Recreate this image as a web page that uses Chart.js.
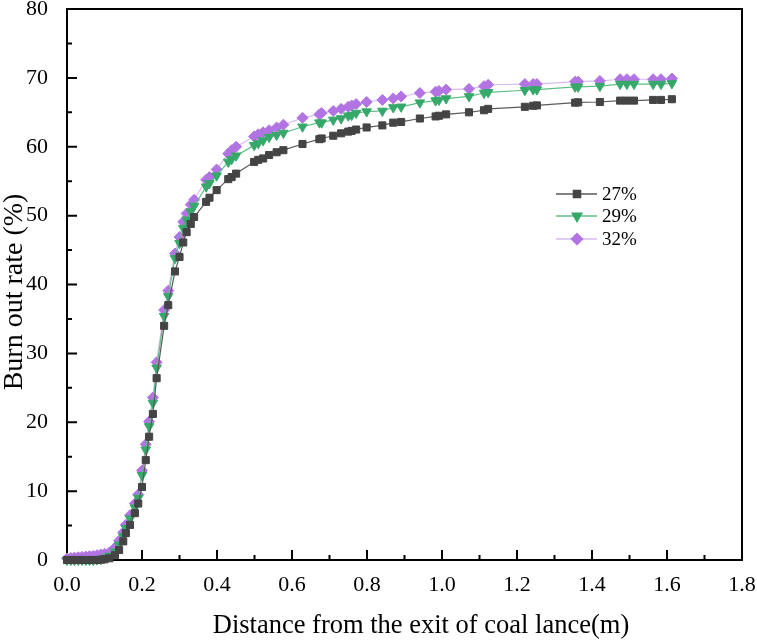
<!DOCTYPE html>
<html>
<head>
<meta charset="utf-8">
<script src="https://cdn.jsdelivr.net/npm/chart.js@4/dist/chart.umd.min.js"></script>
<style>
    html, body { margin: 0; padding: 0; background: #fff; }
    #contenedor { width: 757px; height: 642px; }
</style>
</head>
<body>
<div id="contenedor"><canvas id="myChart"></canvas></div>
<script>
// datos (distancia en m, tasa de quemado en %)
const distancia = [0.0, 0.01, 0.02, 0.03, 0.04, 0.05, 0.06, 0.07, 0.08, 0.09, 0.10,
    0.113, 0.128, 0.139, 0.150, 0.157, 0.168, 0.181, 0.19, 0.20, 0.21, 0.219, 0.229, 0.239,
    0.259, 0.270, 0.288, 0.300, 0.310, 0.319, 0.330, 0.339, 0.371, 0.380, 0.399, 0.430, 0.439,
    0.451, 0.499, 0.510, 0.523, 0.539, 0.559, 0.577, 0.628, 0.673, 0.679, 0.71, 0.731, 0.75,
    0.759, 0.771, 0.799, 0.841, 0.87, 0.891, 0.941, 0.983, 0.992, 1.011, 1.072, 1.112, 1.123,
    1.221, 1.243, 1.253, 1.355, 1.363, 1.421, 1.475, 1.493, 1.512, 1.563, 1.584, 1.613];

const tasa27 = [0, 0, 0, 0, 0, 0, 0, 0, 0, 0.05, 0.1,
    0.25, 0.7, 1.45, 2.7, 3.9, 5.1, 6.8, 8.2, 10.6, 14.5, 17.9, 21.2, 26.4,
    34.0, 37.0, 41.9, 44.0, 46.1, 47.6, 48.8, 49.8, 52.0, 52.6, 53.7, 55.3, 55.6,
    56.1, 57.8, 58.1, 58.3, 58.8, 59.2, 59.5, 60.4, 61.1, 61.2, 61.6, 61.95, 62.2,
    62.3, 62.5, 62.8, 63.1, 63.5, 63.6, 64.1, 64.4, 64.5, 64.7, 65.0, 65.3, 65.5,
    65.8, 65.95, 66.0, 66.4, 66.45, 66.5, 66.7, 66.7, 66.7, 66.8, 66.8, 66.9];

const tasa29 = [0, 0, 0, 0, 0, 0, 0, 0, 0.05, 0.1, 0.3,
    0.6, 1.2, 2.2, 3.4, 4.6, 6.0, 7.6, 9.0, 12.3, 16.0, 19.4, 22.8, 27.9,
    35.4, 38.3, 43.8, 46.0, 48.2, 49.4, 50.6, 51.4, 54.2, 54.7, 55.8, 57.8, 58.2,
    58.7, 60.2, 60.5, 60.9, 61.4, 61.7, 62.0, 62.9, 63.5, 63.5, 63.9, 64.1, 64.5,
    64.6, 64.9, 65.1, 65.2, 65.7, 65.8, 66.4, 66.7, 66.8, 67.0, 67.3, 67.8, 67.9,
    68.2, 68.3, 68.3, 68.7, 68.7, 68.8, 69.1, 69.1, 69.1, 69.1, 69.1, 69.2];

const tasa32 = [0.2, 0.3, 0.35, 0.4, 0.45, 0.5, 0.55, 0.6, 0.7, 0.8, 0.9,
    1.1, 1.8, 2.8, 4.0, 5.1, 6.5, 8.2, 9.5, 13.0, 16.8, 20.1, 23.6, 28.7,
    36.3, 39.1, 44.5, 46.9, 49.1, 50.3, 51.6, 52.3, 55.2, 55.6, 56.7, 59.0, 59.5,
    60.0, 61.5, 61.8, 62.1, 62.4, 62.8, 63.2, 64.2, 64.7, 64.9, 65.2, 65.5, 65.8,
    66.0, 66.2, 66.5, 66.8, 67.0, 67.3, 67.8, 68.0, 68.1, 68.3, 68.4, 68.8, 69.0,
    69.1, 69.1, 69.1, 69.45, 69.45, 69.55, 69.8, 69.8, 69.8, 69.8, 69.8, 69.9];

const ticksX = [0.0, 0.2, 0.4, 0.6, 0.8, 1.0, 1.2, 1.4, 1.6, 1.8];
const ticksY = [0, 10, 20, 30, 40, 50, 60, 70, 80];

const tituloX = "Distance from the exit of coal lance(m)";
const tituloY = "Burn out rate (%)";

const fuente = "'Liberation Serif', 'Times New Roman', serif";

// arma los puntos {x, y} para cada serie
function puntos(valores) {
    return distancia.map((d, i) => ({ x: d, y: valores[i] }));
}

const series = [
    { label: "27%", data: puntos(tasa27), borderColor: "#5a5a5a", backgroundColor: "#444444",
      pointStyle: "rect", pointRadius: 5, rotation: 0 },
    { label: "29%", data: puntos(tasa29), borderColor: "#5cbf85", backgroundColor: "#36a86a",
      pointStyle: "triangle", pointRadius: 5.5, rotation: 180 },
    { label: "32%", data: puntos(tasa32), borderColor: "#d6bcf2", backgroundColor: "#b274e2",
      pointStyle: "rectRot", pointRadius: 5.5, rotation: 0 }
];

// marco y ticks hacia adentro
const pluginMarco = {
    id: "marco",
    beforeDatasetsDraw(chart) {
        const { ctx, chartArea: a, scales } = chart;
        ctx.save();
        ctx.strokeStyle = "#000";
        ctx.lineWidth = 2;
        ctx.strokeRect(a.left, a.top, a.right - a.left, a.bottom - a.top);
        ctx.beginPath();
        ticksY.forEach((v, i) => {
            const py = scales.y.getPixelForValue(v);
            ctx.moveTo(a.left, py);
            ctx.lineTo(a.left + 10, py);
            if (i < ticksY.length - 1) {
                const pm = scales.y.getPixelForValue((v + ticksY[i + 1]) / 2);
                ctx.moveTo(a.left, pm);
                ctx.lineTo(a.left + 5, pm);
            }
        });
        ticksX.forEach((v, i) => {
            const px = scales.x.getPixelForValue(v);
            ctx.moveTo(px, a.bottom);
            ctx.lineTo(px, a.bottom - 10);
            if (i < ticksX.length - 1) {
                const pm = scales.x.getPixelForValue((v + ticksX[i + 1]) / 2);
                ctx.moveTo(pm, a.bottom);
                ctx.lineTo(pm, a.bottom - 5);
            }
        });
        ctx.stroke();

        // titulos de los ejes
        ctx.fillStyle = "#000";
        ctx.textAlign = "center";
        ctx.textBaseline = "middle";
        ctx.font = "26.5px " + fuente;
        ctx.fillText(tituloX, 421, 626);
        ctx.translate(15, 292);
        ctx.rotate(-Math.PI / 2);
        ctx.font = "28px " + fuente;
        ctx.fillText(tituloY, 0, 0);
        ctx.restore();
    }
};

// leyenda dibujada dentro del area
const pluginLeyenda = {
    id: "leyenda",
    afterDraw(chart) {
        const ctx = chart.ctx;
        const filas = [194, 216, 239];
        ctx.save();
        series.forEach((s, i) => {
            const yf = filas[i];
            ctx.strokeStyle = s.borderColor;
            ctx.lineWidth = 1.5;
            ctx.beginPath();
            ctx.moveTo(556, yf);
            ctx.lineTo(597, yf);
            ctx.stroke();
            ctx.fillStyle = s.backgroundColor;
            ctx.strokeStyle = s.backgroundColor;
            Chart.helpers.drawPoint(ctx, {
                pointStyle: s.pointStyle, radius: s.pointRadius, rotation: s.rotation, borderWidth: 1
            }, 577, yf);
            ctx.fillStyle = "#000";
            ctx.font = "19px " + fuente;
            ctx.textBaseline = "middle";
            ctx.textAlign = "left";
            ctx.fillText(s.label, 602, yf + 1);
        });
        ctx.restore();
    }
};

function cargarGrafico() {
    const datasets = series.map((s) => ({
        label: s.label,
        data: s.data,
        borderColor: s.borderColor,
        backgroundColor: s.backgroundColor,
        pointBackgroundColor: s.backgroundColor,
        pointBorderColor: s.backgroundColor,
        pointBorderWidth: 1,
        pointStyle: s.pointStyle,
        pointRadius: s.pointRadius,
        pointRotation: s.rotation,
        borderWidth: 1.2,
        tension: 0,
        clip: false
    }));

    const config = {
        type: "line",
        data: { datasets },
        options: {
            responsive: true,
            maintainAspectRatio: false,
            animation: false,
            events: [],
            layout: { padding: { left: 0, top: 9, right: 15, bottom: 0 } },
            plugins: { legend: { display: false }, tooltip: { enabled: false } },
            scales: {
                x: {
                    type: "linear",
                    min: 0,
                    max: 1.8,
                    grid: { display: false },
                    border: { display: false },
                    afterBuildTicks: (escala) => { escala.ticks = ticksX.map((v) => ({ value: v })); },
                    afterFit: (escala) => { escala.height = 82; escala.paddingLeft = 0; escala.paddingRight = 0; },
                    ticks: {
                        autoSkip: false,
                        maxRotation: 0,
                        padding: 4,
                        color: "#000",
                        font: { family: fuente, size: 22 },
                        callback: (v) => Number(v).toFixed(1)
                    }
                },
                y: {
                    min: 0,
                    max: 80,
                    grid: { display: false },
                    border: { display: false },
                    afterBuildTicks: (escala) => { escala.ticks = ticksY.map((v) => ({ value: v })); },
                    afterFit: (escala) => { escala.width = 67; escala.paddingTop = 0; escala.paddingBottom = 0; },
                    ticks: {
                        padding: 11,
                        color: "#000",
                        font: { family: fuente, size: 22 }
                    }
                }
            }
        },
        plugins: [pluginMarco, pluginLeyenda]
    };

    const canvas = document.getElementById("myChart");
    new Chart(canvas, config);
}

cargarGrafico();
</script>
</body>
</html>
